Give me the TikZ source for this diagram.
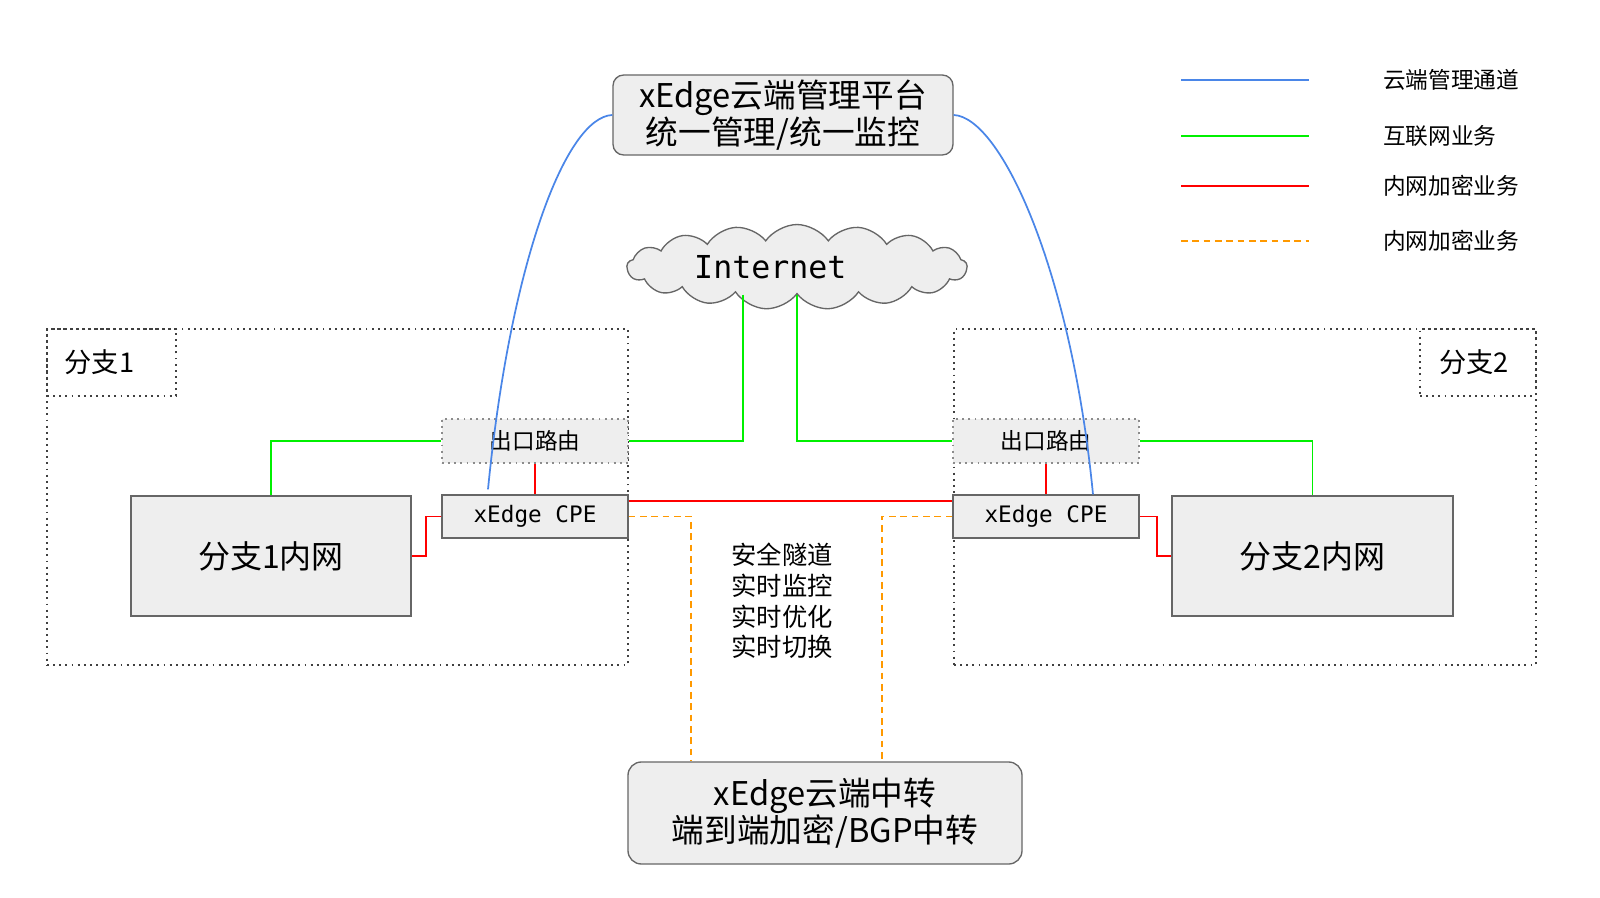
\documentclass[tikz,border=0pt]{standalone}
\usepackage{fontspec}
\setmainfont{Noto Sans CJK SC}
\newfontfamily\monofont{DejaVu Sans Mono}
\usepackage{tikz}
\usetikzlibrary{calc,positioning,shapes.symbols}
\definecolor{boxfill}{RGB}{238,238,238}
\definecolor{boxline}{RGB}{102,102,102}
\definecolor{mgmtblue}{RGB}{74,134,232}
\definecolor{inetgreen}{RGB}{0,240,0}
\definecolor{vpnred}{RGB}{255,0,0}
\definecolor{relayorange}{RGB}{255,153,0}

\begin{document}
\begin{tikzpicture}[x=0.75pt,y=-0.75pt,
   box/.style={draw=boxline,fill=boxfill,line width=1pt,inner sep=0pt,align=center},
   frame/.style={draw=black!75,dash pattern=on 1.4pt off 3.2pt,line width=1.2pt,inner sep=0pt},
   mgmtline/.style={draw=mgmtblue,line width=1.3pt},
   inetline/.style={draw=inetgreen,line width=1.3pt},
   vpnline/.style={draw=vpnred,line width=1.3pt},
   relayline/.style={draw=relayorange,line width=1.3pt,dash pattern=on 5pt off 3.5pt},
   legtext/.style={anchor=west,inner sep=0pt,font=\fontsize{17pt}{20pt}\selectfont}]
   \useasboundingbox (0,0) rectangle (1600,898);
   \node[frame,minimum width=435.75pt,minimum height=252pt] (br1) at (337.5,497) {};
   \node[frame,minimum width=436.5pt,minimum height=252pt] (br2) at (1245,497) {};
   \node[frame,minimum width=96.75pt,minimum height=50.25pt,font=\fontsize{20.4pt}{24pt}\selectfont] (br1lbl) at (111.5,362.5) {分支1\kern18pt};
   \node[frame,minimum width=87pt,minimum height=50.25pt,font=\fontsize{20.4pt}{24pt}\selectfont] (br2lbl) at (1478,362.5) {分支2\kern6pt};
   \node[box,rounded corners=8pt,minimum width=255pt,minimum height=60pt,font=\fontsize{24.5pt}{27.5pt}\selectfont] (mgmt) at (783,115) {xEdge云端管理平台\\统一管理/统一监控};
   \node[draw=boxline,fill=boxfill,line width=1pt,cloud,cloud puffs=17,cloud puff arc=110,aspect=5,inner sep=0pt,minimum width=255pt,minimum height=55pt,font=\monofont\fontsize{23.7pt}{26pt}\selectfont] (internet) at (797,267) {Internet\kern40pt};
   \node[fill=boxfill,draw=black!45,dash pattern=on 1.4pt off 3.2pt,line width=1.2pt,inner sep=0pt,minimum width=139.5pt,minimum height=33pt,font=\fontsize{17pt}{20pt}\selectfont] (exit1) at (535,441) {出口路由};
   \node[fill=boxfill,draw=black!45,dash pattern=on 1.4pt off 3.2pt,line width=1.2pt,inner sep=0pt,minimum width=139.5pt,minimum height=33pt,font=\fontsize{17pt}{20pt}\selectfont] (exit2) at (1046,441) {出口路由};
   \node[box,minimum width=139.5pt,minimum height=32.25pt,font=\monofont\fontsize{17pt}{20pt}\selectfont] (cpe1) at (535,516.5) {xEdge CPE};
   \node[box,minimum width=139.5pt,minimum height=32.25pt,font=\monofont\fontsize{17pt}{20pt}\selectfont] (cpe2) at (1046,516.5) {xEdge CPE};
   \node[box,minimum width=210pt,minimum height=90pt,font=\fontsize{24pt}{28pt}\selectfont] (lan1) at (271,556) {分支1内网};
   \node[box,minimum width=210.75pt,minimum height=90pt,font=\fontsize{24pt}{28pt}\selectfont] (lan2) at (1312.5,556) {分支2内网};
   \node[box,rounded corners=10pt,minimum width=295.5pt,minimum height=76.5pt,font=\fontsize{24.5pt}{28pt}\selectfont] (relay) at (825,813) {xEdge云端中转\\端到端加密/BGP中转};
   \node[align=center,inner sep=0pt,font=\fontsize{19pt}{23pt}\selectfont] (tunnel) at (782,601) {安全隧道\\实时监控\\实时优化\\实时切换};
   \draw[inetline] (internet.south) ++(-54,0) |- (exit1.east);
   \draw[inetline] (internet.south) |- (exit2.west);
   \draw[inetline] (exit1.west) -| (lan1.north);
   \draw[inetline] (exit2.east) -| (lan2.north);
   \draw[vpnline] (exit1.south) -- (cpe1.north);
   \draw[vpnline] (exit2.south) -- (cpe2.north);
   \draw[vpnline] ($(cpe1.north east)+(0,7)$) -- ($(cpe2.north west)+(0,7)$);
   \draw[vpnline] (cpe1.west) -- ++(-15,0) |- (lan1.east);
   \draw[vpnline] (cpe2.east) -- ++(17,0) |- (lan2.west);
   \draw[relayline] (cpe1.east) -| ($(relay.north west)+(64,0)$);
   \draw[relayline] (cpe2.west) -| ($(relay.north east)+(-141,0)$);
   \draw[mgmtline] (mgmt.west) .. controls +(-47,2) and +(22,-225) .. ($(cpe1.north)+(-47,-5)$);
   \draw[mgmtline] (mgmt.east) .. controls +(47,2) and +(-22,-225) .. ($(cpe2.north)+(47,0)$);
   \foreach \kind/\yy/\txt [count=\i] in {mgmtline/80/云端管理通道,inetline/136/互联网业务,vpnline/186/内网加密业务,relayline/241/内网加密业务}{
     \draw[\kind] (1181,\yy) -- (1309,\yy);
     \node[legtext] (leg\i) at (1383,\yy) {\txt};
   }
  \end{tikzpicture}
\end{document}
